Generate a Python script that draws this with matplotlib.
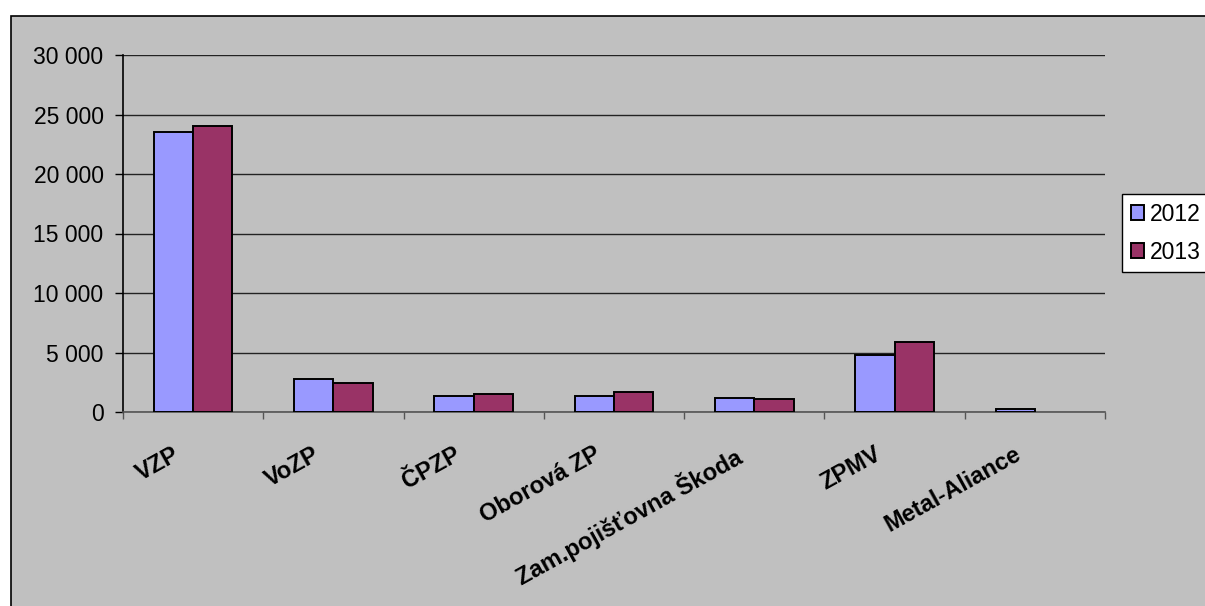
import matplotlib.pyplot as plt
import matplotlib.patches as mpatches
import numpy as np
from matplotlib.ticker import FuncFormatter, MultipleLocator

plt.rcParams['font.family'] = ['Liberation Sans', 'DejaVu Sans']

categories = ["VZP", "VoZP", "ČPZP", "Oborová ZP", "Zam.pojišťovna Škoda", "ZPMV", "Metal-Aliance"]
values_2012 = [23500, 2750, 1370, 1370, 1200, 4770, 250]
values_2013 = [24000, 2450, 1540, 1680, 1070, 5860, np.nan]  # no 2013 value for Metal-Aliance
series_names = ["2012", "2013"]

col_2012 = "#9999FF"
col_2013 = "#993366"
gray = "#C0C0C0"

W, H = 1205, 606
fig = plt.figure(figsize=(W / 100, H / 100), dpi=100)
fig.patch.set_facecolor("white")

# chart area (gray with border, cut at right/bottom like the source)
fig.patches.append(mpatches.Rectangle((11 / W, -0.01), 1.02, 1 - 16 / H + 0.01,
                                      transform=fig.transFigure, facecolor=gray,
                                      edgecolor="black", lw=1.2, zorder=-10))

ax = fig.add_axes([123 / W, 194 / H, (1105 - 123) / W, (412 - 55) / H])
ax.set_facecolor(gray)
ax.set_zorder(1)

x = np.arange(len(categories))
w = 0.28
ax.bar(x - w / 2, values_2012, w, color=col_2012, edgecolor="black", lw=1.4, zorder=3, label=series_names[0])
ax.bar(x + w / 2, values_2013, w, color=col_2013, edgecolor="black", lw=1.4, zorder=3, label=series_names[1])

ax.set_xlim(-0.5, len(categories) - 0.5)
ax.set_ylim(0, 30000)
ax.yaxis.set_major_locator(MultipleLocator(5000))
ax.yaxis.set_major_formatter(FuncFormatter(lambda v, p: f"{int(v):,}".replace(",", " ")))
ax.grid(axis="y", color="#222222", lw=1.0, zorder=1)

for s in ["top", "right"]:
    ax.spines[s].set_visible(False)
ax.spines["left"].set_linewidth(1.2)
ax.spines["bottom"].set_color("#555555")
ax.spines["bottom"].set_linewidth(1.2)

ax.tick_params(axis="y", length=6, width=1, labelsize=16.5, pad=8)
ax.set_xticks(np.arange(len(categories) + 1) - 0.5, minor=False)
ax.set_xticklabels([])
ax.tick_params(axis="x", length=5, width=1, color="#555555")

# rotated bold category labels, right end near the group centre
for i, c in enumerate(categories):
    ax.annotate(c, (i, 0), xycoords=("data", "axes fraction"), xytext=(-15, -22),
                textcoords="offset points", rotation=29, rotation_mode="anchor",
                ha="right", va="top", fontsize=17, fontweight="bold")

leg = fig.legend(loc="upper left", bbox_to_anchor=(1122 / W, 1 - 194 / H), fontsize=16.5,
                 frameon=True, fancybox=False, edgecolor="black", framealpha=1,
                 handlelength=0.6, handleheight=0.6, handletextpad=0.25,
                 borderpad=0.38, labelspacing=0.65, borderaxespad=0)
leg.get_frame().set_linewidth(1.0)
leg.set_zorder(5)

fig.savefig("out.png", dpi=100)
